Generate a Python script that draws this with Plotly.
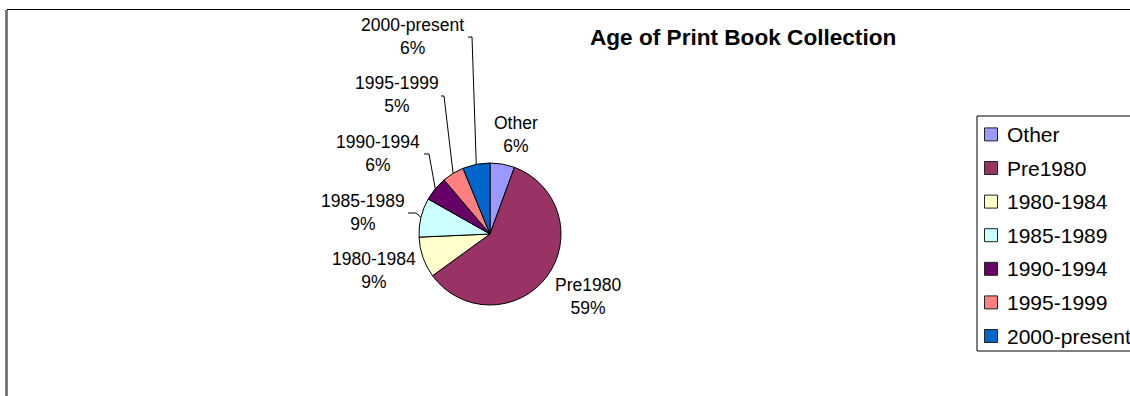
import math
import plotly.graph_objects as go

# ---- data ----
labels = ["Other", "Pre1980", "1980-1984", "1985-1989", "1990-1994", "1995-1999", "2000-present"]
values = [5.6, 59.4, 9.3, 8.9, 5.6, 5.0, 6.2]
colors = ["#9999FF", "#993366", "#FFFFCC", "#CCFFFF", "#660066", "#FF8080", "#0066CC"]
title_text = "Age of Print Book Collection"

# ---- layout constants (pixels) ----
W, H = 1130, 396
PIE_CX, PIE_CY, PIE_R = 490, 234, 71
FONT = "Liberation Sans, Arial, sans-serif"
# label centres (x, y) for each slice label
label_pos = [(516, 135), (588, 296), (374, 270), (363, 212), (378, 153), (397, 95), (412, 36)]
# leader tick start/end x for labels with leader lines
leader_tick = [None, None, None, (408, 416), (424, 429), (441, 444), (468, 472)]
LEG_X0, LEG_Y0, LEG_Y1 = 977, 116, 351
LEG_ITEM_Y0, LEG_STEP = 134.4, 33.6


def px(x):
    return x / W


def py(y):
    return 1 - y / H


fig = go.Figure()
fig.add_trace(go.Pie(
    labels=labels,
    values=values,
    sort=False,
    direction="clockwise",
    rotation=0,
    marker=dict(colors=colors, line=dict(color="#000000", width=1)),
    textinfo="none",
    hoverinfo="label+percent",
    showlegend=False,
    domain=dict(x=[px(PIE_CX - PIE_R), px(PIE_CX + PIE_R)],
                y=[py(PIE_CY + PIE_R), py(PIE_CY - PIE_R)]),
))

shapes = []
annotations = []

# outer chart border
shapes.append(dict(type="rect", xref="paper", yref="paper",
                   x0=px(7), x1=px(1140), y0=py(400), y1=py(9.5),
                   line=dict(color="#000000", width=1), layer="below"))
shapes.append(dict(type="line", xref="paper", yref="paper",
                   x0=px(5.8), x1=px(5.8), y0=py(400), y1=py(10),
                   line=dict(color="#666666", width=1.3)))

# title
annotations.append(dict(text="<b>" + title_text + "</b>", xref="paper", yref="paper",
                        x=px(743.5), y=py(37), xanchor="center", yanchor="middle",
                        showarrow=False, font=dict(family=FONT, size=22.6, color="#000000")))

# slice labels + leader lines
total = sum(values)
cum = 0.0
for i, (lab, v) in enumerate(zip(labels, values)):
    mid = (cum + v / 2) / total * 360.0
    cum += v
    pct = round(v / total * 100)
    lx, ly = label_pos[i]
    annotations.append(dict(text=f"{lab}<br>{pct}%", xref="paper", yref="paper",
                            x=px(lx), y=py(ly), xanchor="center", yanchor="middle",
                            align="center", showarrow=False,
                            font=dict(family=FONT, size=17.5, color="#000000")))
    if leader_tick[i] is not None:
        ex = PIE_CX + PIE_R * math.sin(math.radians(mid))
        ey = PIE_CY - PIE_R * math.cos(math.radians(mid))
        t0, t1 = leader_tick[i]
        ty = ly + 1
        path = f"M {px(t0)},{py(ty)} L {px(t1)},{py(ty)} L {px(ex)},{py(ey)}"
        shapes.append(dict(type="path", xref="paper", yref="paper", path=path,
                           line=dict(color="#000000", width=1)))

# legend box
shapes.append(dict(type="rect", xref="paper", yref="paper",
                   x0=px(LEG_X0), x1=px(1140), y0=py(LEG_Y1), y1=py(LEG_Y0),
                   line=dict(color="#000000", width=1), fillcolor="#FFFFFF"))
for i, (lab, col) in enumerate(zip(labels, colors)):
    cy = LEG_ITEM_Y0 + i * LEG_STEP
    shapes.append(dict(type="rect", xref="paper", yref="paper",
                       x0=px(984.5), x1=px(997.5), y0=py(cy + 6.5), y1=py(cy - 6.5),
                       fillcolor=col, line=dict(color="#222222", width=1)))
    annotations.append(dict(text=lab, xref="paper", yref="paper",
                            x=px(1005), y=py(cy), xanchor="left", yanchor="middle",
                            showarrow=False,
                            font=dict(family=FONT, size=21, color="#000000")))

fig.update_layout(
    width=W, height=H,
    margin=dict(l=0, r=0, t=0, b=0, autoexpand=False),
    paper_bgcolor="#FFFFFF",
    plot_bgcolor="#FFFFFF",
    shapes=shapes,
    annotations=annotations,
    showlegend=False,
)

fig.write_html("out.html", config={"displayModeBar": False})
